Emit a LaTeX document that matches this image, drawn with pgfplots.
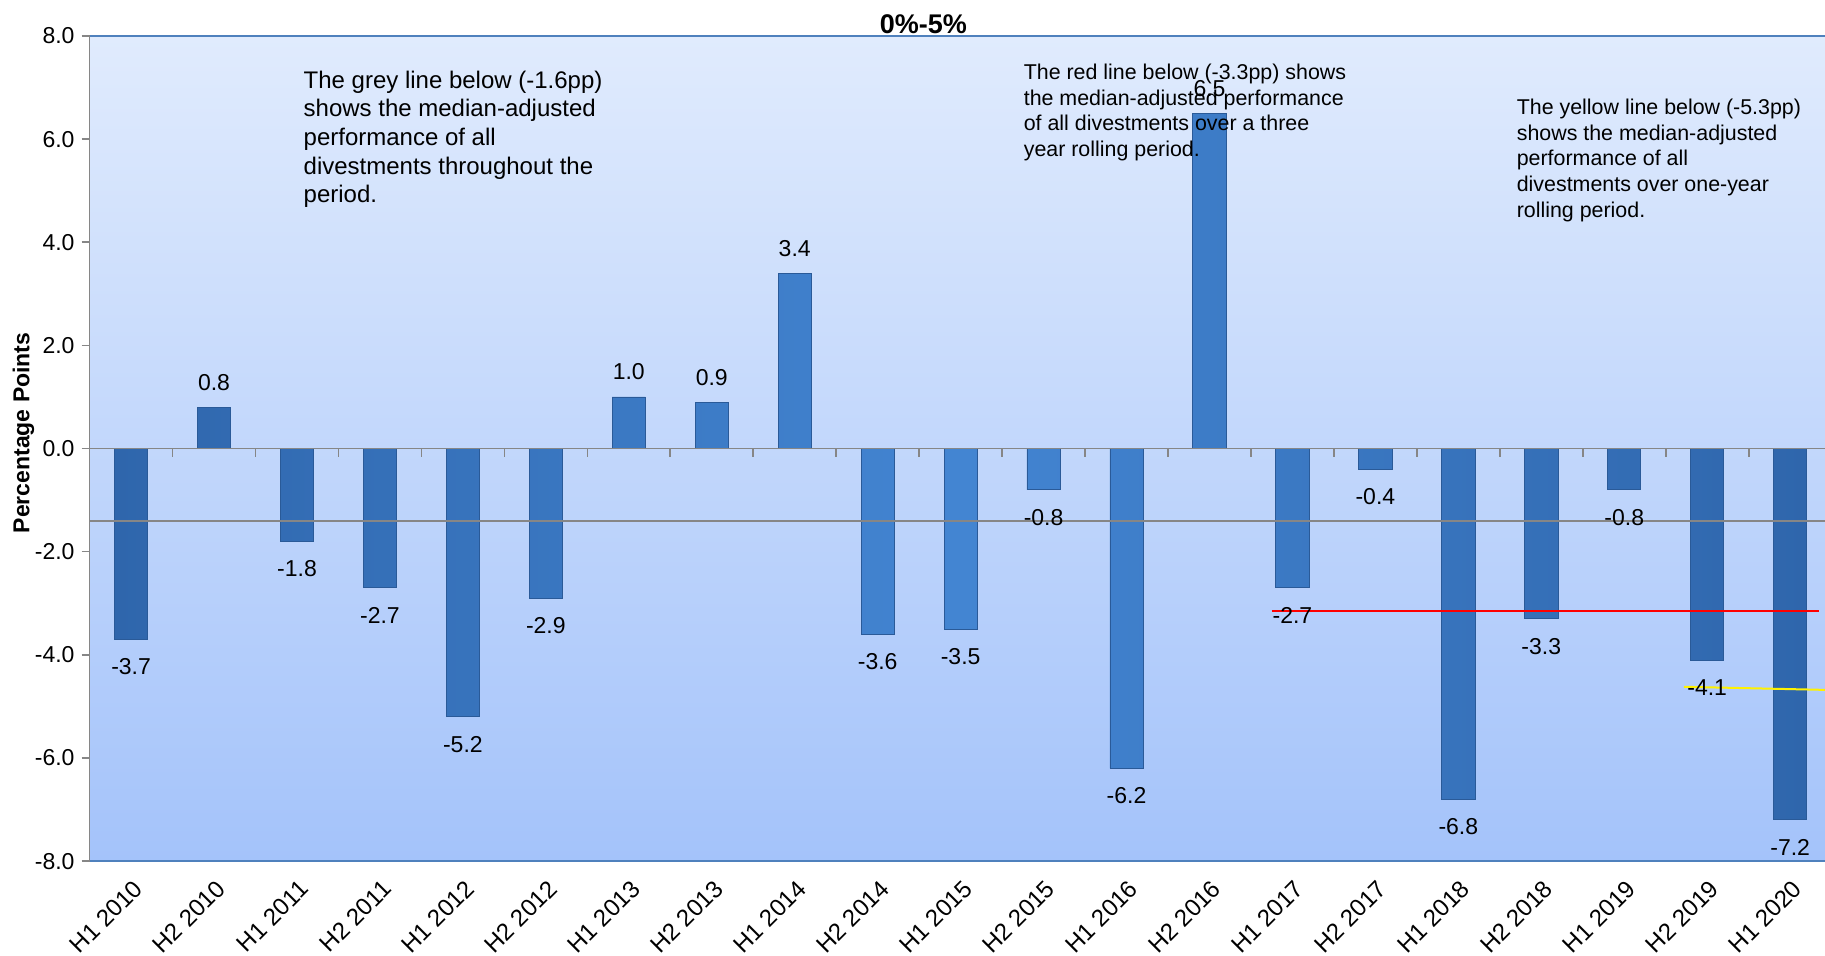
\documentclass[border=0pt]{standalone}
\usepackage{pgfplots}
\pgfplotsset{compat=1.18}
\usepackage{fontspec}
\setmainfont{Liberation Sans}

\definecolor{bgTop}{HTML}{E0EBFD}
\definecolor{bgBot}{HTML}{A4C3FA}
\definecolor{barMid}{HTML}{4385D2}
\definecolor{barEdge}{HTML}{2F66AC}
\definecolor{barLine}{HTML}{2A5A98}
\definecolor{frameBlue}{HTML}{4F81BD}
\definecolor{axGray}{HTML}{868686}

\begin{document}
\begin{tikzpicture}
\begin{axis}[
  scale only axis,
  width=867.8pt, height=412.6pt,
  xmin=-0.5, xmax=20.42,
  ymin=-8, ymax=8,
  axis x line*=bottom,
  axis y line*=left,
  x axis line style={frameBlue, line width=1pt},
  y axis line style={axGray, line width=0.8pt},
  axis background/.style={shade, top color=bgTop, bottom color=bgBot},
  /pgf/number format/assume math mode=true,
  ytick={-8,-6,...,8},
  yticklabel style={/pgf/number format/fixed,
    /pgf/number format/fixed zerofill,
    /pgf/number format/precision=1,
    font=\fontsize{11.5}{13}\selectfont},
  ytick style={draw=axGray, line width=0.8pt},
  tick align=outside,
  major tick length=4pt,
  xtick={0,...,20},
  xtick style={draw=none},
  xticklabels={H1 2010,H2 2010,H1 2011,H2 2011,H1 2012,H2 2012,H1 2013,
    H2 2013,H1 2014,H2 2014,H1 2015,H2 2015,H1 2016,H2 2016,H1 2017,
    H2 2017,H1 2018,H2 2018,H1 2019,H2 2019,H1 2020},
  xticklabel style={rotate=45, anchor=east, font=\fontsize{12}{14}\selectfont,
    xshift=0.5pt, yshift=-8pt},
  ylabel={Percentage Points},
  ylabel style={at={(rel axis cs:0,0.519)}, anchor=center,
    font=\bfseries\fontsize{11.5}{13}\selectfont, yshift=33pt},
  clip=false,
]
% half-year performance, percentage points
\addplot[ybar, bar width=0.4, bar shift=0pt,
  draw=barLine, line width=0.4pt,
  left color=barEdge, right color=barEdge, middle color=barMid,
  nodes near coords={\pgfmathprintnumber[fixed,fixed zerofill,precision=1]{\pgfplotspointmeta}},
  visualization depends on={rawy \as \rawy},
  every node near coord/.append style={font=\fontsize{11.5}{13}\selectfont,
    text=black, anchor=center, yshift={ifthenelse(\rawy<0,-13.7,12.5)}}]
coordinates {
  (0,-3.7) (1,0.8) (2,-1.8) (3,-2.7) (4,-5.2) (5,-2.9) (6,1.0) (7,0.9)
  (8,3.4) (9,-3.6) (10,-3.5) (11,-0.8) (12,-6.2) (13,6.5) (14,-2.7)
  (15,-0.4) (16,-6.8) (17,-3.3) (18,-0.8) (19,-4.1) (20,-7.2)
};

% zero line with separators between the half-years
\draw[axGray, line width=0.8pt] (axis cs:-0.5,0) -- (axis cs:20.42,0);
\pgfplotsinvokeforeach{0.5,1.5,...,19.5}{
  \draw[axGray, line width=0.8pt] (axis cs:#1,0) -- ++(0pt,-4pt);
}
% reference lines: whole period, three-year and one-year rolling medians
\addplot[sharp plot, axGray, line width=0.8pt, forget plot]
  coordinates {(-0.5,-1.41) (20.42,-1.41)};
\addplot[sharp plot, red, line width=1pt, forget plot]
  coordinates {(13.75,-3.15) (20.35,-3.15)};
\addplot[sharp plot, yellow, line width=1pt, forget plot]
  coordinates {(18.72,-4.62) (20.42,-4.68)};

% top frame line
\draw[frameBlue, line width=1pt] (rel axis cs:0,1) -- (rel axis cs:1,1);

% notes
\node[anchor=north west, align=left, inner sep=0pt,
  font=\fontsize{12}{14.3}\selectfont] at (axis cs:2.076,7.33)
  {The grey line below (-1.6pp)\\shows the median-adjusted\\performance of all\\divestments throughout the\\period.};
\node[anchor=north west, align=left, inner sep=0pt,
  font=\fontsize{10.7}{12.8}\selectfont] at (axis cs:10.757,7.46)
  {The red line below (-3.3pp) shows\\the median-adjusted performance\\of all divestments over a three\\year rolling period.};
\node[anchor=north west, align=left, inner sep=0pt,
  font=\fontsize{10.7}{12.8}\selectfont] at (axis cs:16.70,6.78)
  {The yellow line below (-5.3pp)\\shows the median-adjusted\\performance of all\\divestments over one-year\\rolling period.};
\node[font=\bfseries\fontsize{13.5}{15}\selectfont] at (axis cs:9.55,8.23) {0\%-5\%};

\coordinate (SW) at (rel axis cs:0,0);
\coordinate (NE) at (rel axis cs:1,1);
\end{axis}
\pgfresetboundingbox
\path[use as bounding box] ([shift={(-44.8pt,-47.3pt)}]SW) rectangle ([shift={(0pt,18pt)}]NE);
\end{tikzpicture}
\end{document}
